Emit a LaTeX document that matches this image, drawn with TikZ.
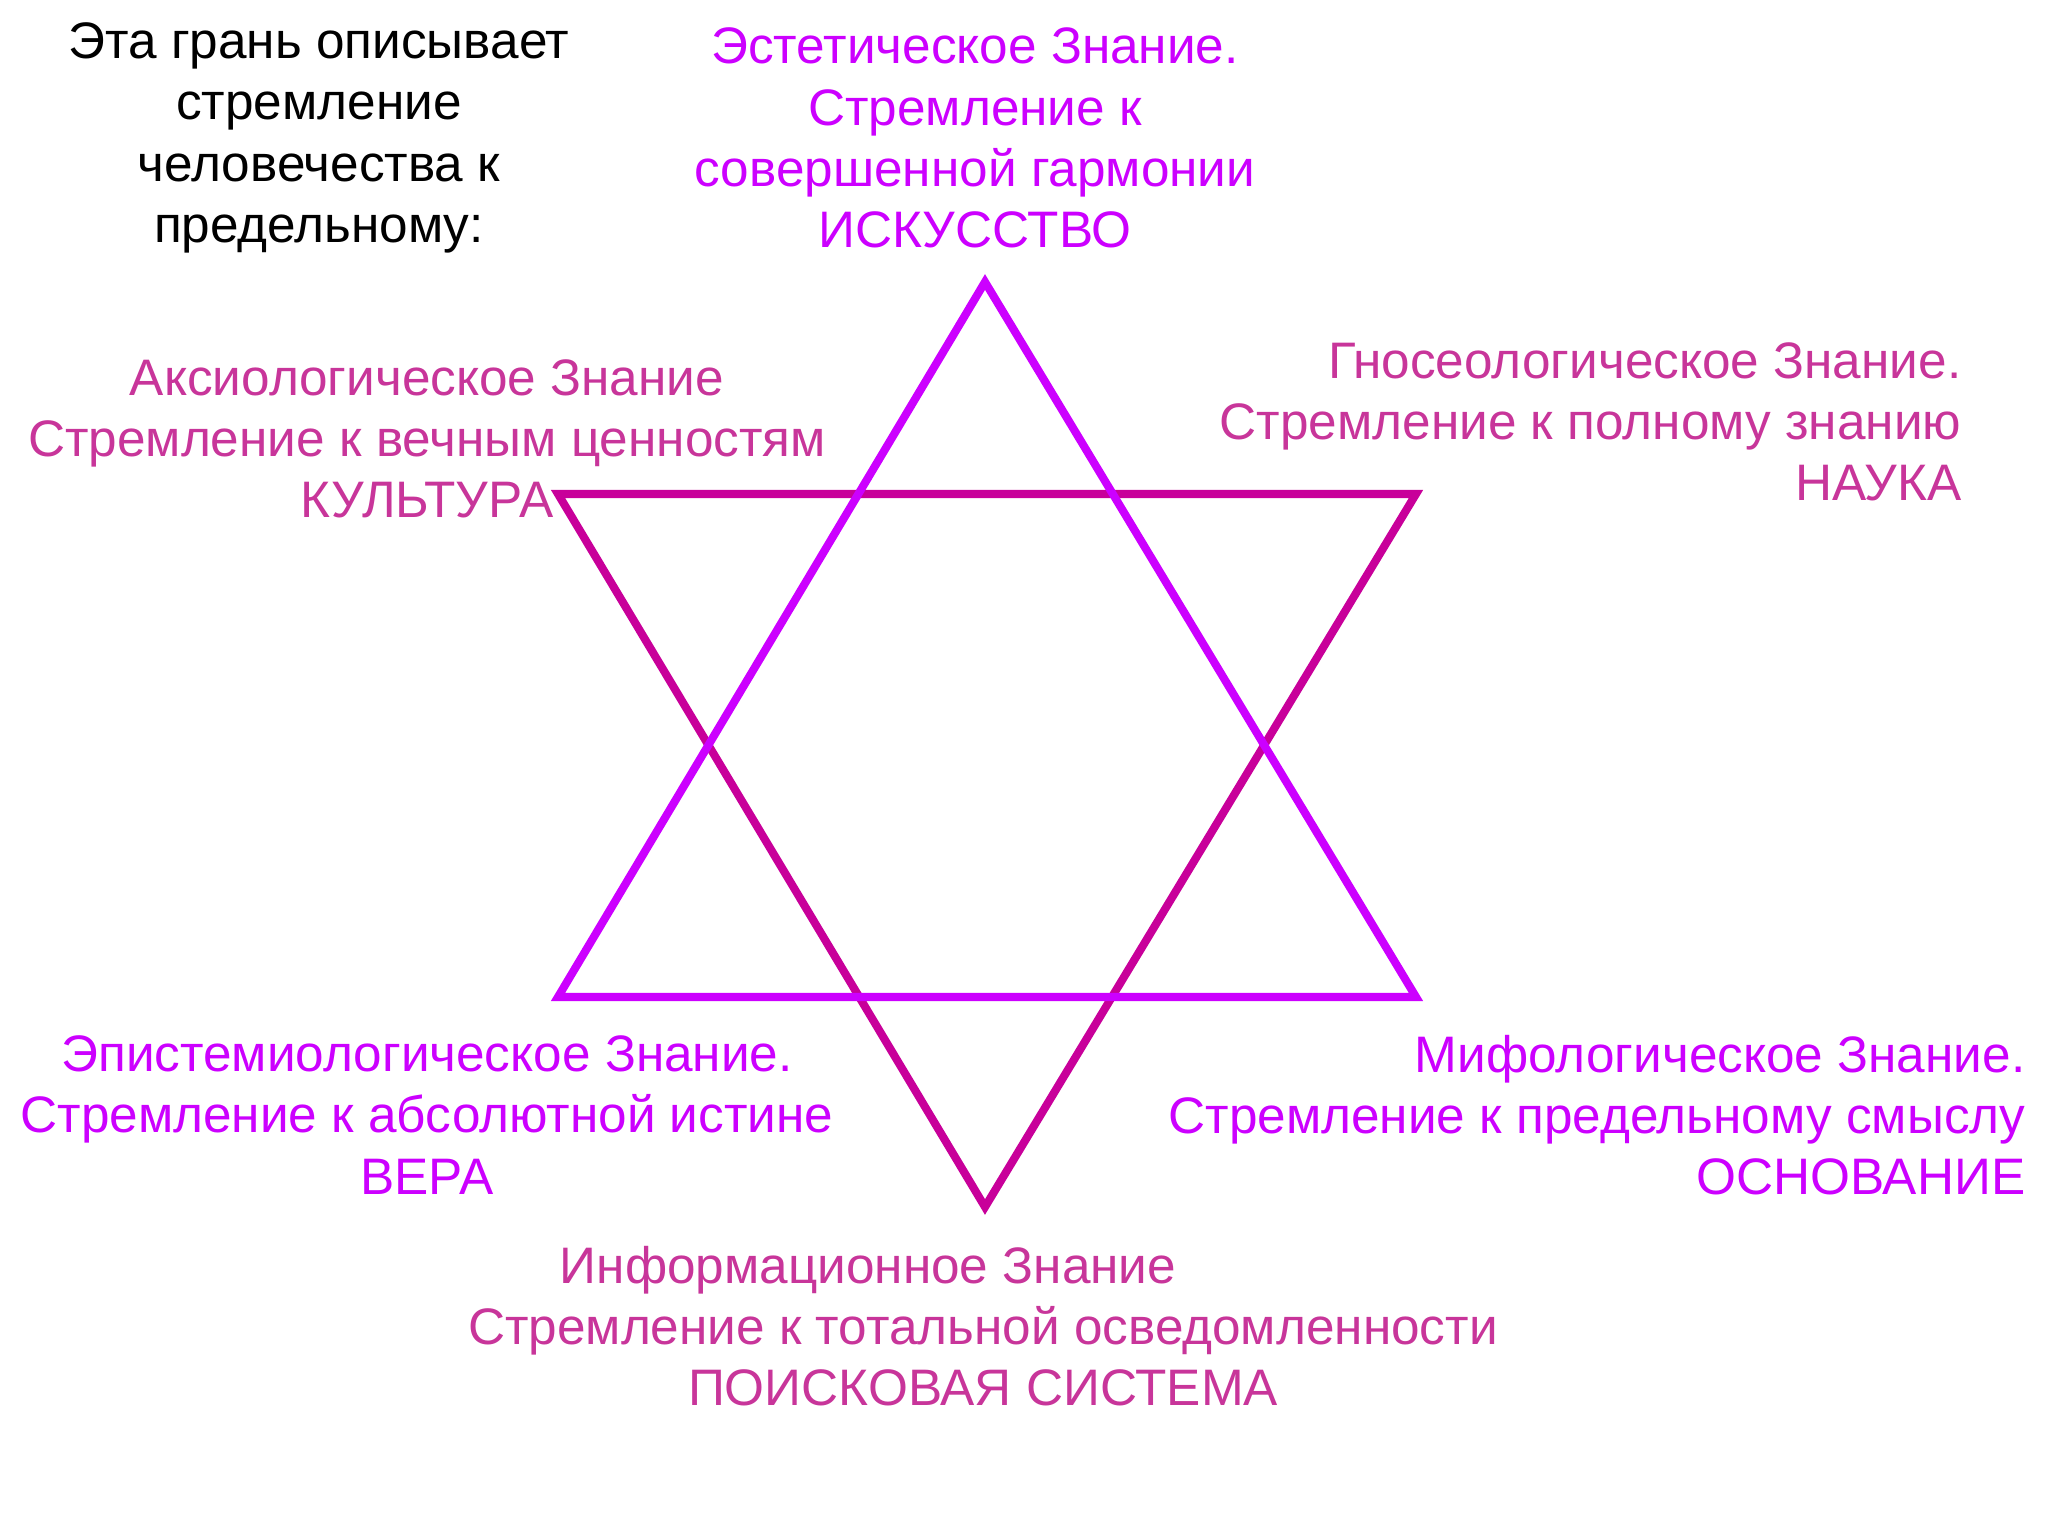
\documentclass[tikz,border=0pt]{standalone}
\usepackage{fontspec}
\setmainfont{Liberation Sans}
\usepackage{tikz}
\definecolor{violetstar}{HTML}{CC00FF}
\definecolor{magstar}{HTML}{C8009A}
\definecolor{rosetext}{HTML}{C8359A}
\tikzset{
  facet/.style = {align=center, inner sep=0pt, font=\fontsize{14.6}{17.4}\selectfont},
  violettext/.style = {facet, text=violetstar},
  rosetext/.style = {facet, text=rosetext},
  upedge/.style = {draw=violetstar, line width=2.3pt, line join=miter},
  downedge/.style = {draw=magstar, line width=2.3pt, line join=miter},
}

\begin{document}
\begin{tikzpicture}
\useasboundingbox[fill=white] (0,0) rectangle (20.48,15.36);
% vertices of the two triangles
\coordinate (up top) at (9.85,12.54);
\coordinate (up left) at (5.58,5.39);
\coordinate (up right) at (14.16,5.39);
\coordinate (down left) at (5.58,10.42);
\coordinate (down right) at (14.16,10.42);
\coordinate (down bottom) at (9.85,3.29);
\draw [downedge] (down left) -- (down right) -- (down bottom) -- cycle;
\draw [upedge] (up top) -- (up right) -- (up left) -- cycle;

\node [facet] (intro) at (3.19,13.98) {Эта грань описывает\\стремление\\человечества к\\предельному:};
\node [violettext] (aesth) at (9.75,13.98) {Эстетическое Знание.\\Стремление к\\совершенной гармонии\\ИСКУССТВО};
\node [rosetext] (axio) at (4.27,10.97) {Аксиологическое Знание\\Стремление к вечным ценностям\\КУЛЬТУРА};
\node [rosetext, align=right, anchor=east] (gnoseo) at (19.62,11.14) {Гносеологическое Знание.\\Стремление к полному знанию\\НАУКА};
\node [violettext] (episte) at (4.27,4.21) {Эпистемиологическое Знание.\\Стремление к абсолютной истине\\ВЕРА};
\node [violettext, align=right, anchor=east] (mytho) at (20.26,4.21) {Мифологическое Знание.\\Стремление к предельному смыслу\\ОСНОВАНИЕ};
\node [rosetext] (info) at (9.83,2.10) {Информационное Знание\hspace*{2.3cm}\\Стремление к тотальной осведомленности\\ПОИСКОВАЯ СИСТЕМА};
\end{tikzpicture}
\end{document}
